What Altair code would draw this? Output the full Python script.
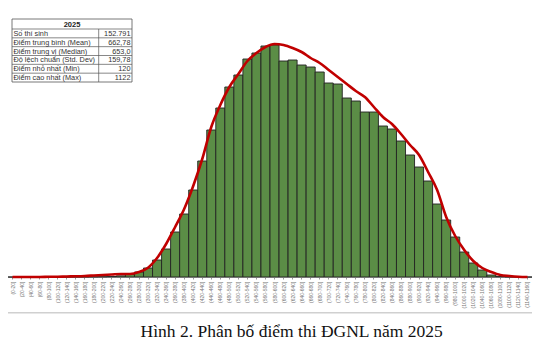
import altair as alt
import pandas as pd

# ---------------- data ----------------
bin_labels = [
    "(0-20]", "(20-40]", "(40-60]", "(60-80]", "(80-100]", "(100-120]",
    "(120-140]", "(140-160]", "(160-180]", "(180-200]", "(200-220]", "(220-240]",
    "(240-260]", "(260-280]", "(280-300]", "(300-320]", "(320-340]", "(340-360]",
    "(360-380]", "(380-400]", "(400-420]", "(420-440]", "(440-460]", "(460-480]",
    "(480-500]", "(500-520]", "(520-540]", "(540-560]", "(560-580]", "(580-600]",
    "(600-620]", "(620-640]", "(640-660]", "(660-680]", "(680-700]", "(700-720]",
    "(720-740]", "(740-760]", "(760-780]", "(780-800]", "(800-820]", "(820-840]",
    "(840-860]", "(860-880]", "(880-900]", "(900-920]", "(920-940]", "(940-960]",
    "(960-980]", "(980-1000]", "(1000-1020]", "(1020-1040]", "(1040-1060]", "(1060-1080]",
    "(1080-1100]", "(1100-1120]", "(1120-1140]", "(1140-1160]",
]

counts = [
    0, 0, 0, 0, 0, 0,
    1, 2, 3, 6, 9, 15,
    35, 75, 150, 270, 510, 840,
    1350, 1890, 2610, 3480, 4410, 5070,
    5700, 6060, 6540, 6720, 6930, 6960,
    6480, 6510, 6360, 6300, 6150, 5820,
    5790, 5370, 5280, 4950, 4950, 4530,
    4440, 4080, 3660, 3300, 2880, 2190,
    1710, 1200, 750, 420, 210, 60,
    15, 3, 1, 0,
]

curve = [
    0, 0, 0, 0, 6, 9,
    15, 21, 30, 45, 60, 75,
    90, 90, 150, 280, 570, 990,
    1500, 2040, 2730, 3540, 4500, 5160,
    5700, 6090, 6480, 6720, 6900, 6990,
    6960, 6870, 6750, 6570, 6420, 6210,
    6000, 5790, 5580, 5400, 5100, 4800,
    4590, 4290, 3960, 3660, 3150, 2610,
    1800, 1230, 810, 480, 270, 150,
    60, 30, 9, 0,
]

table_title = "2025"
table_labels = [
    "Số thí sinh",
    "Điểm trung bình (Mean)",
    "Điểm trung vị (Median)",
    "Độ lệch chuẩn (Std. Dev)",
    "Điểm nhỏ nhất (Min)",
    "Điểm cao nhất (Max)",
]
table_values = ["152.791", "662,78", "653,0", "159,78", "120", "1122"]

caption = "Hình 2. Phân bố điểm thi ĐGNL năm 2025"

# ---------------- styles ----------------
GREEN = "#5B8D46"
RED = "#C00000"
W, H = 524, 269

df = pd.DataFrame({"bin": bin_labels, "count": counts, "curve": curve})

xenc = alt.X(
    "bin:N",
    sort=bin_labels,
    scale=alt.Scale(paddingInner=0, paddingOuter=0),
    axis=alt.Axis(
        title=None, labelAngle=270, labelFontSize=5, labelColor="#777",
        labelFont="Liberation Sans", labelPadding=2, labelOverlap=False,
        tickSize=2, tickColor="#999", domainColor="#bbb",
    ),
)

bars = alt.Chart(df).mark_bar(
    color=GREEN, stroke="#222", strokeWidth=0.9
).encode(
    x=xenc,
    y=alt.Y("count:Q", scale=alt.Scale(domain=[0, 8070], nice=False), axis=None),
)

line = alt.Chart(df).mark_line(
    color=RED, strokeWidth=2.6, interpolate="monotone"
).encode(
    x=alt.X("bin:N", sort=bin_labels, bandPosition=0.5),
    y=alt.Y("curve:Q"),
)

one = pd.DataFrame({"a": [0]})

layers = [bars, line]

# table frame
TL, TR, TT, TB = 4, 124, 11, 74
HEAD_B = 21
ROW_H = (TB - HEAD_B) / len(table_labels)
DIV_X = 90.7

layers.append(
    alt.Chart(one).mark_rect(fill="white", stroke="#555", strokeWidth=0.8).encode(
        x=alt.value(TL), x2=alt.value(TR), y=alt.value(TT), y2=alt.value(TB)
    )
)
layers.append(
    alt.Chart(pd.DataFrame({"t": [table_title]})).mark_text(
        font="Liberation Sans", fontSize=7.5, fontWeight="bold", color="#222",
        align="center", baseline="middle",
    ).encode(x=alt.value((TL + TR) / 2), y=alt.value((TT + HEAD_B) / 2 + 0.5), text="t:N")
)
layers.append(
    alt.Chart(one).mark_rule(color="#555", strokeWidth=0.7).encode(
        x=alt.value(DIV_X), y=alt.value(HEAD_B), y2=alt.value(TB)
    )
)
for i, (lab, val) in enumerate(zip(table_labels, table_values)):
    ytop = HEAD_B + ROW_H * i
    layers.append(
        alt.Chart(one).mark_rule(color="#555", strokeWidth=0.7).encode(
            x=alt.value(TL), x2=alt.value(TR), y=alt.value(ytop)
        )
    )
    layers.append(
        alt.Chart(pd.DataFrame({"t": [lab]})).mark_text(
            font="Liberation Sans", fontSize=7.3, color="#333",
            align="left", baseline="middle",
        ).encode(x=alt.value(TL + 1.5), y=alt.value(ytop + ROW_H / 2 + 0.5), text="t:N")
    )
    layers.append(
        alt.Chart(pd.DataFrame({"t": [val]})).mark_text(
            font="Liberation Sans", fontSize=7.3, color="#333",
            align="right", baseline="middle",
        ).encode(x=alt.value(TR - 1.5), y=alt.value(ytop + ROW_H / 2 + 0.5), text="t:N")
    )

# separator line and caption
layers.append(
    alt.Chart(one).mark_rule(color="#d0d0d0", strokeWidth=1.5).encode(
        x=alt.value(0), x2=alt.value(W), y=alt.value(304.7)
    )
)
layers.append(
    alt.Chart(pd.DataFrame({"t": [caption]})).mark_text(
        font="Liberation Serif", fontSize=17.5, color="#111",
        align="center", baseline="alphabetic",
    ).encode(x=alt.value(283.7), y=alt.value(329), text="t:N")
)

chart = alt.layer(*layers).properties(
    width=W,
    height=H,
    padding={"left": 0, "top": 0, "right": 0, "bottom": 67},
    autosize=alt.AutoSizeParams(type="none"),
).configure_view(stroke=None)

chart.save("out.html", embed_options={"renderer": "svg", "actions": False})
